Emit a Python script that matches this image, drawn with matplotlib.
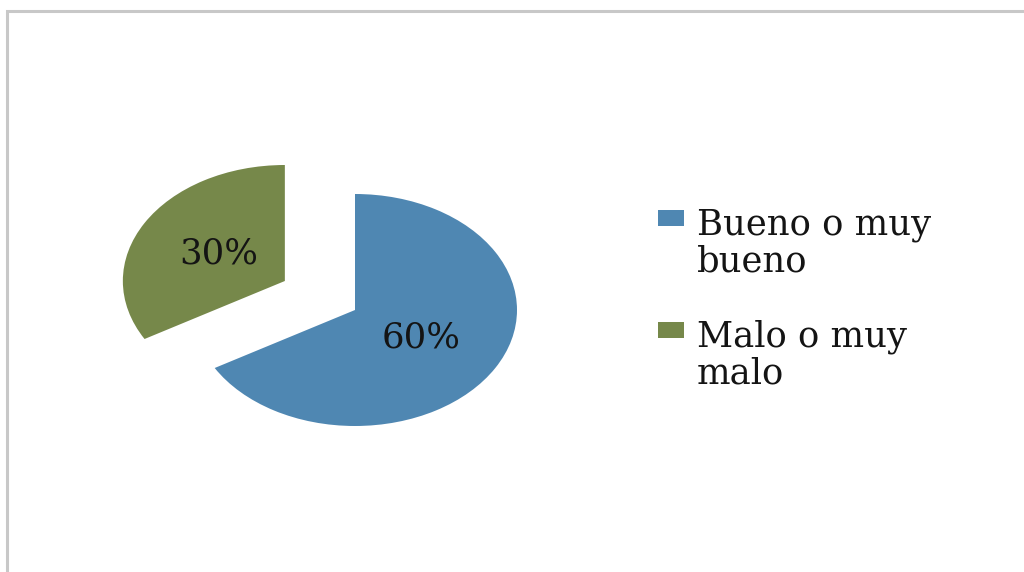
import numpy as np
import matplotlib.pyplot as plt
from matplotlib.patches import Rectangle

# survey result (the two shares do not add up to 100)
categorias = ['Bueno o muy\nbueno', 'Malo o muy\nmalo']
valores = [60, 30]
colores = ['#4F87B2', '#76884A']
separacion = [0.0, 0.5]

W, H = 1024, 572
fig = plt.figure(figsize=(W / 100, H / 100), dpi=100)

# light grey frame of the chart area
fig.patches.append(Rectangle((7 / W, -0.05), 1.1, 1 - 11 / H + 0.05,
                             transform=fig.transFigure, fill=False,
                             edgecolor='#c8c8c8', linewidth=2.2))

# pie is drawn wider than tall
cx, cy, rx, ry = 355, H - 310, 162, 116
ax = fig.add_axes([(cx - 2 * rx) / W, (cy - 2 * ry) / H, 4 * rx / W, 4 * ry / H])
wedges, textos = ax.pie(valores, colors=colores, startangle=90, counterclock=False,
                        explode=separacion, labels=[f'{v}%' for v in valores],
                        labeldistance=0.47,
                        textprops=dict(family='DejaVu Serif', fontsize=25.5, color='#141414'),
                        wedgeprops=dict(linewidth=0))
for t in textos:
    t.set_ha('center')
    t.set_va('center')
ax.set_aspect('auto')
ax.set_xlim(-2, 2)
ax.set_ylim(-2, 2)
ax.axis('off')

# legend: square key level with the first text line
# (va='baseline' puts the last line on y, the first sits 39 px above)
y_last = [272, 384]
for cat, col, yb in zip(categorias, colores, y_last):
    y_first = yb - 39
    fig.patches.append(Rectangle((658 / W, 1 - (y_first - 7) / H), 26 / W, 16 / H,
                                 transform=fig.transFigure, facecolor=col,
                                 edgecolor='none'))
    fig.text(697 / W, 1 - yb / H, cat, family='DejaVu Serif', fontsize=25.5,
             color='#141414', ha='left', va='baseline', linespacing=1.12)

fig.savefig('out.png', dpi=100)
